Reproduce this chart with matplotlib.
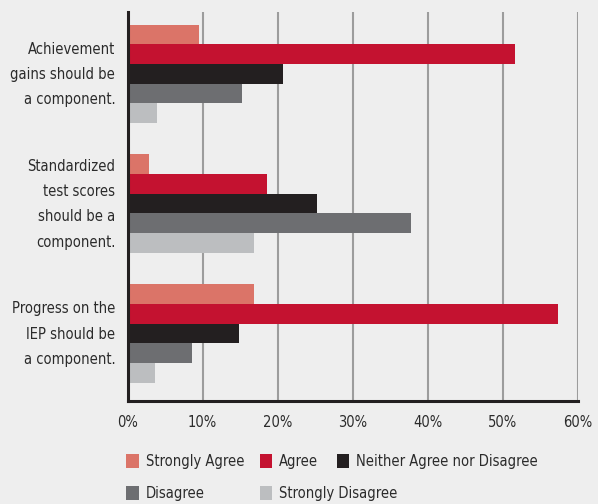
import matplotlib
matplotlib.use("Agg")
import matplotlib.pyplot as plt
import matplotlib.transforms as mtransforms
import numpy as np

# Data
statements = [
    "Achievement\ngains should be\na component.",
    "Standardized\ntest scores\nshould be a\ncomponent.",
    "Progress on the\nIEP should be\na component.",
]
responses = ["Strongly Agree", "Agree", "Neither Agree nor Disagree",
             "Disagree", "Strongly Disagree"]
strongly_agree = [9.5, 2.8, 16.8]
agree = [51.6, 18.6, 57.4]
neither = [20.7, 25.2, 14.8]
disagree = [15.2, 37.8, 8.6]
strongly_disagree = [3.9, 16.8, 3.6]
xticks = [0, 10, 20, 30, 40, 50, 60]

colors = ["#DB7468", "#C41230", "#231F20", "#6D6E71", "#BCBEC0"]
bg = "#EEEEEE"
txt = "#2B2B2B"

plt.rcParams["font.family"] = ["DejaVu Sans"]
plt.rcParams["font.stretch"] = "condensed"

fig = plt.figure(figsize=(5.98, 5.04), dpi=100, facecolor=bg)
ax = fig.add_axes([0.2135, 0.2044, 0.7525, 0.7716], facecolor=bg)

series = [strongly_agree, agree, neither, disagree, strongly_disagree]
y = np.arange(len(statements))
h = 0.1515
handles = []
for i, (vals, c) in enumerate(zip(series, colors)):
    b = ax.barh(y + (i - 2) * h, vals, height=h, color=c, zorder=3,
                label=responses[i])
    handles.append(b)

fs = 10.5
ax.set_xlim(0, 60)
ax.set_ylim(2.52, -0.475)
ax.set_xticks(xticks)
ax.set_xticklabels([f"{t}%" for t in xticks], fontsize=fs, color=txt)
ax.set_yticks(y)
ax.set_yticklabels(statements, fontsize=fs, color=txt, linespacing=1.85)
ax.tick_params(axis="both", length=0)
ax.tick_params(axis="y", pad=9)
ax.tick_params(axis="x", pad=10)
ax.grid(axis="x", color="#9C9C9C", linewidth=1.5, zorder=1)

# nudge the category labels up a little
shift = mtransforms.ScaledTranslation(0, 0.06, fig.dpi_scale_trans)
for lab in ax.get_yticklabels():
    lab.set_transform(lab.get_transform() + shift)

for s in ["top", "right"]:
    ax.spines[s].set_visible(False)
ax.spines["left"].set_color("#231F20")
ax.spines["left"].set_linewidth(2.2)
ax.spines["left"].set_zorder(4)
ax.spines["bottom"].set_color("#231F20")
ax.spines["bottom"].set_linewidth(2.2)

# legend placed entry by entry to mimic the layout
pos = [(0.211, 0.084), (0.434, 0.084), (0.563, 0.084),
       (0.211, 0.02), (0.434, 0.02)]
for hnd, lab, (px, py) in zip(handles, responses, pos):
    fig.legend([hnd], [lab], loc="center left", bbox_to_anchor=(px, py),
               frameon=False, fontsize=fs, handlelength=0.85,
               handleheight=1.1, handletextpad=0.5, borderpad=0,
               borderaxespad=0, labelcolor=txt)

fig.savefig("out.png", dpi=100, facecolor=bg)
